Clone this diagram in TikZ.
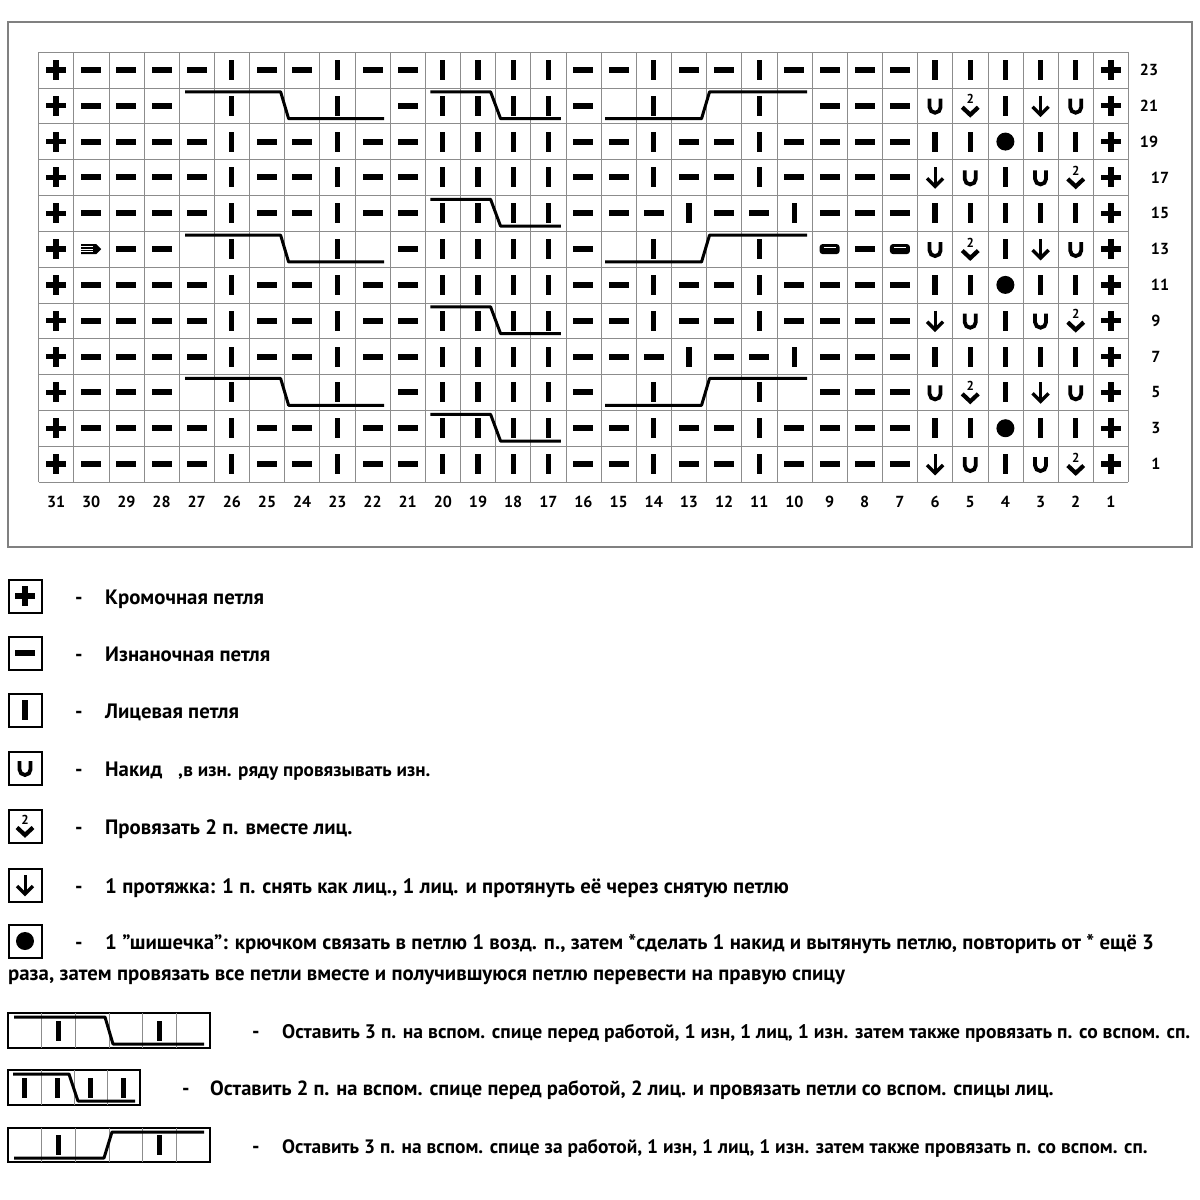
\documentclass[tikz,border=0pt]{standalone}
\usepackage{fontspec}
\setmainfont{PT Sans}
\begin{document}
\begin{tikzpicture}[x=1pt,y=-1pt,
  gridline/.style={draw=black!45,line width=0.6},
  cableline/.style={draw=black,line width=3,line join=round},
  numtxt/.style={font=\bfseries\fontsize{16}{16}\selectfont,inner sep=0},
  legtxt/.style={font=\bfseries\fontsize{20.8}{20.8}\selectfont,anchor=base west,inner sep=0},
  legbox/.style={draw=black,line width=2,minimum width=33,minimum height=33,inner sep=0},
  sym-P/.pic={\fill (-10,-2.7) rectangle (10,2.7); \fill (-2.7,-10) rectangle (2.7,10);},
  sym-m/.pic={\fill (-10,-3) rectangle (10,3);},
  sym-k/.pic={\fill (-2.6,-10) rectangle (2.6,10);},
  sym-e/.pic={},
  sym-o/.pic={\draw[line width=3.8] (-5.5,-7) -- (-5.5,1.5) arc (180:0:5.5) -- (5.5,-7);},
  sym-a/.pic={\draw[line width=3] (0,-10) -- (0,9); \draw[line width=3.4,line join=miter] (-8,1) -- (0,9) -- (8,1);},
  sym-t/.pic={\node[font=\bfseries\fontsize{13}{13}\selectfont,inner sep=0] at (0,-6.5) {2};
              \draw[line width=4.2,line join=miter] (-8,1.5) -- (0,9) -- (8,1.5);},
  sym-b/.pic={\fill (0,0) circle (9);},
  sym-s/.pic={\fill[rounded corners=3] (-10,-5) rectangle (10,5); \draw[white,line width=1.4] (-6,-1.5) -- (6,-1.5);},
  sym-r/.pic={\fill (-10,-5) -- (5,-5) -- (10,0) -- (5,5) -- (-10,5) -- cycle;
              \foreach \yy in {-2.5,0,2.5}{\draw[white,line width=0.9] (-10,\yy) -- (2,\yy);}},
]
\useasboundingbox (0,0) rectangle (1200,1200);
\fill[white] (0,0) rectangle (1200,1200);
\def\gx{38.5}\def\gy{52}\def\cw{35.16}\def\ch{35.83}
% outer frame
\draw[black!50,line width=1.6] (8,22) rectangle (1192,547);
% grid
\foreach \i in {0,...,31}{\draw[gridline] (\gx+\i*\cw,\gy) -- (\gx+\i*\cw,\gy+12*\ch);}
\foreach \j in {0,...,12}{\draw[gridline] (\gx,\gy+\j*\ch) -- (\gx+31*\cw,\gy+\j*\ch);}
% symbols
\foreach \row [count=\r from 0] in {
 {P,m,m,m,m,k,m,m,k,m,m,k,k,k,k,m,m,k,m,m,k,m,m,m,m,k,k,k,k,k,P},
 {P,m,m,m,e,k,e,e,k,e,m,k,k,k,k,m,e,k,e,e,k,e,m,m,m,o,t,k,a,o,P},
 {P,m,m,m,m,k,m,m,k,m,m,k,k,k,k,m,m,k,m,m,k,m,m,m,m,k,k,b,k,k,P},
 {P,m,m,m,m,k,m,m,k,m,m,k,k,k,k,m,m,k,m,m,k,m,m,m,m,a,o,k,o,t,P},
 {P,m,m,m,m,k,m,m,k,m,m,k,k,k,k,m,m,m,k,m,m,k,m,m,m,k,k,k,k,k,P},
 {P,r,m,m,e,k,e,e,k,e,m,k,k,k,k,m,e,k,e,e,k,e,s,m,s,o,t,k,a,o,P},
 {P,m,m,m,m,k,m,m,k,m,m,k,k,k,k,m,m,k,m,m,k,m,m,m,m,k,k,b,k,k,P},
 {P,m,m,m,m,k,m,m,k,m,m,k,k,k,k,m,m,k,m,m,k,m,m,m,m,a,o,k,o,t,P},
 {P,m,m,m,m,k,m,m,k,m,m,k,k,k,k,m,m,m,k,m,m,k,m,m,m,k,k,k,k,k,P},
 {P,m,m,m,e,k,e,e,k,e,m,k,k,k,k,m,e,k,e,e,k,e,m,m,m,o,t,k,a,o,P},
 {P,m,m,m,m,k,m,m,k,m,m,k,k,k,k,m,m,k,m,m,k,m,m,m,m,k,k,b,k,k,P},
 {P,m,m,m,m,k,m,m,k,m,m,k,k,k,k,m,m,k,m,m,k,m,m,m,m,a,o,k,o,t,P}}{
  \foreach \s [count=\c from 0] in \row {
    \pic at (\gx+\c*\cw+0.5*\cw,\gy+\r*\ch+0.5*\ch) {sym-\s};
  }
}
% cables
\foreach \r in {1,5,9}{
  \draw[cableline] (\gx+4*\cw+6,\gy+\r*\ch+4) -- (\gx+7*\cw-4,\gy+\r*\ch+4) -- (\gx+7*\cw+4,\gy+\r*\ch+\ch-5) -- (\gx+10*\cw-6,\gy+\r*\ch+\ch-5);
  \draw[cableline] (\gx+16*\cw+4,\gy+\r*\ch+\ch-5) -- (\gx+19*\cw-5,\gy+\r*\ch+\ch-5) -- (\gx+19*\cw+3,\gy+\r*\ch+4) -- (\gx+22*\cw-5,\gy+\r*\ch+4);
}
\foreach \r in {1,4,7,10}{
  \draw[cableline] (\gx+11*\cw+5,\gy+\r*\ch+4) -- (\gx+13*\cw-5,\gy+\r*\ch+4) -- (\gx+13*\cw+5,\gy+\r*\ch+\ch-5) -- (\gx+15*\cw-5,\gy+\r*\ch+\ch-5);
}
% column numbers
\foreach \n [count=\c from 0] in {31,30,...,1}{
  \node[numtxt] (cn\n) at (\gx+\c*\cw+0.5*\cw,502) {\n};
}
% row numbers
\foreach \n/\xx [count=\r from 0] in {23/1149,21/1149,19/1149,17/1160,15/1160,13/1160,11/1160,9/1156,7/1156,5/1156,3/1156,1/1156}{
  \node[numtxt] (rn\n) at (\xx,\gy+\r*\ch+0.5*\ch) {\n};
}
% legend
\node[legbox] (L1) at (25,596) {}; \pic at (L1) {sym-P};
\node[legbox] (L2) at (25,653) {}; \pic at (L2) {sym-m};
\node[legbox] (L3) at (25,710) {}; \pic at (L3) {sym-k};
\node[legbox] (L4) at (25,768) {}; \pic at (L4) {sym-o};
\node[legbox] (L5) at (25,826) {}; \pic at (L5) {sym-t};
\node[legbox] (L6) at (25,885) {}; \pic at (L6) {sym-a};
\node[legbox] (L7) at (25,941) {}; \pic at (L7) {sym-b};
\foreach \yy in {604,661,718,776,834,893,949}{
  \node[legtxt] at (75,\yy) {-};
}
\node[legtxt] (T1) at (105,604) {Кромочная петля};
\node[legtxt] (T2) at (105,661) {Изнаночная петля};
\node[legtxt] (T3) at (105,718) {Лицевая петля};
\node[legtxt] (T4a) at (105,776) {Накид};
\node[legtxt,font=\bfseries\fontsize{19.2}{19.2}\selectfont] (T4b) at (178,776) {,в изн. ряду провязывать изн.};
\node[legtxt] (T5) at (105,834) {Провязать 2 п. вместе лиц.};
\node[legtxt] (T6) at (105,893) {1 протяжка: 1 п. снять как лиц., 1 лиц. и протянуть её через снятую петлю};
\node[legtxt] (T7a) at (105,949) {1 "шишечка": крючком связать в петлю 1 возд. п., затем *сделать 1 накид и вытянуть петлю, повторить от * ещё 3};
\node[legtxt] (T7b) at (8,980) {раза, затем провязать все петли вместе и получившуюся петлю перевести на правую спицу};
% cable legend 1
\draw[line width=1.5] (8,1013) rectangle (210,1048);
\foreach \i in {1,...,5}{\draw[gridline] (8+\i*33.67,1013) -- (8+\i*33.67,1048);}
\pic at (8+1.5*33.67,1030.5) {sym-k}; \pic at (8+4.5*33.67,1030.5) {sym-k};
\draw[cableline] (14,1017) -- (105,1017) -- (113,1044) -- (204,1044);
\node[legtxt] at (252,1038) {-};
\node[legtxt,font=\bfseries\fontsize{19.6}{19.6}\selectfont] (T8) at (282,1038) {Оставить 3 п. на вспом. спице перед работой, 1 изн, 1 лиц, 1 изн. затем также провязать п. со вспом. сп.};
% cable legend 2
\draw[line width=1.5] (8,1070) rectangle (140,1105);
\foreach \i in {1,...,3}{\draw[gridline] (8+\i*33,1070) -- (8+\i*33,1105);}
\foreach \i in {0,...,3}{\pic at (8+\i*33+16.5,1087.5) {sym-k};}
\draw[cableline] (13,1074) -- (69,1074) -- (78,1101) -- (135,1101);
\node[legtxt] at (182,1095) {-};
\node[legtxt,font=\bfseries\fontsize{20.5}{20.5}\selectfont] (T9) at (210,1095) {Оставить 2 п. на вспом. спице перед работой, 2 лиц. и провязать петли со вспом. спицы лиц.};
% cable legend 3
\draw[line width=1.5] (8,1128) rectangle (210,1162);
\foreach \i in {1,...,5}{\draw[gridline] (8+\i*33.67,1128) -- (8+\i*33.67,1162);}
\pic at (8+1.5*33.67,1145) {sym-k}; \pic at (8+4.5*33.67,1145) {sym-k};
\draw[cableline] (14,1158) -- (104,1158) -- (112,1132) -- (204,1132);
\node[legtxt] at (252,1153) {-};
\node[legtxt,font=\bfseries\fontsize{19.4}{19.4}\selectfont] (T10) at (282,1153) {Оставить 3 п. на вспом. спице за работой, 1 изн, 1 лиц, 1 изн. затем также провязать п. со вспом. сп.};
\end{tikzpicture}
\end{document}
